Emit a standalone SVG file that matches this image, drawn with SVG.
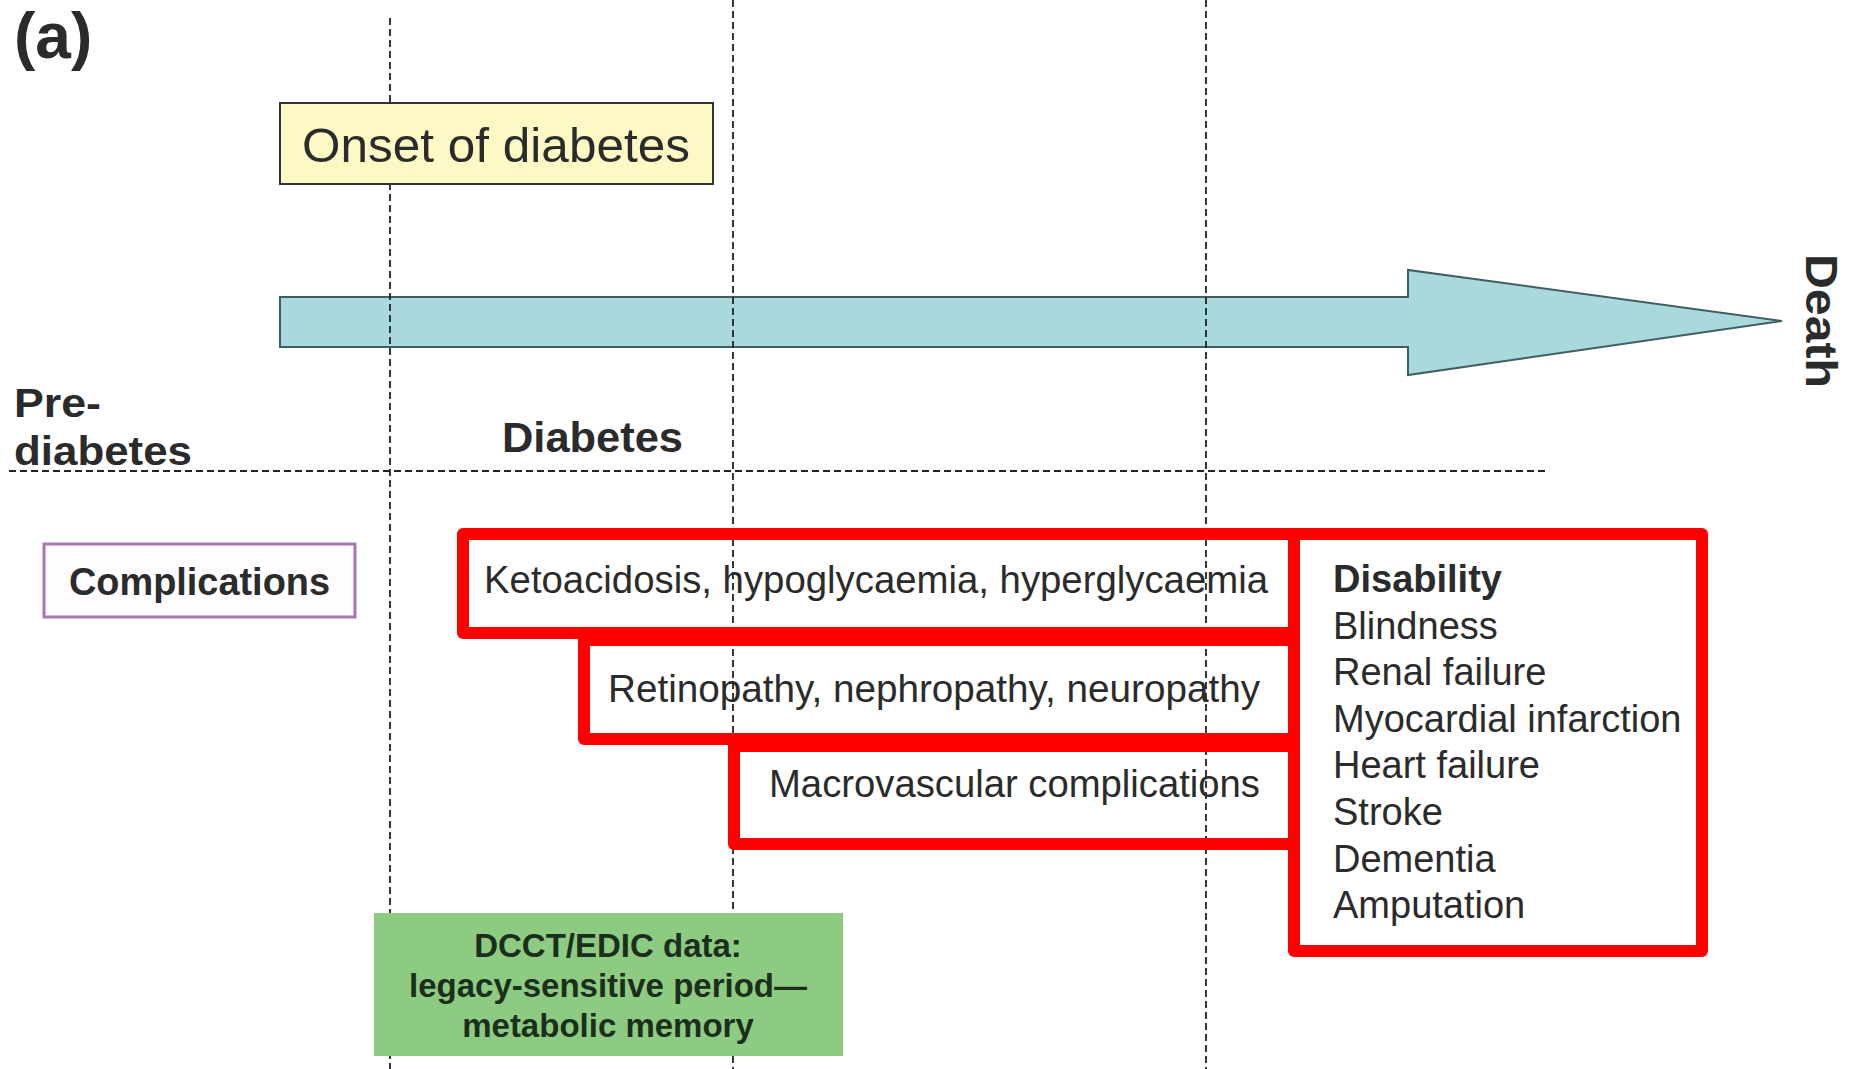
<svg xmlns="http://www.w3.org/2000/svg" width="1854" height="1069" viewBox="0 0 1854 1069">
<style>
.t{font-family:"Liberation Sans",Arial,sans-serif;fill:#2b2b2b}
.b{font-weight:bold}
.guide{stroke:#222;stroke-width:1.8;stroke-dasharray:7 4;fill:none}
.red{fill:none;stroke:#ff0000;stroke-width:12;stroke-linejoin:round}
.lst{font-size:38px}
</style>
<rect width="1854" height="1069" fill="#ffffff"/>
<g id="timeline-arrow">
<polygon points="280,297 1408,297 1408,270 1782,321 1408,375 1408,347 280,347" fill="#a9d9dc" stroke="#3f5f61" stroke-width="2"/>
</g>
<g id="connectors">
<line class="guide" x1="390" y1="18" x2="390" y2="1069"/>
<line class="guide" x1="733" y1="0" x2="733" y2="1069"/>
<line class="guide" x1="1206" y1="0" x2="1206" y2="1069"/>
<line class="guide" x1="9" y1="471" x2="1545" y2="471"/>
</g>
<g id="label-a"><text class="t b" x="14" y="58" font-size="64">(a)</text></g>
<g id="onset">
<rect x="280" y="103" width="433" height="81" fill="#fdf9c4" stroke="#333" stroke-width="2"/>
<text class="t" x="496" y="162" font-size="49" text-anchor="middle" textLength="388" lengthAdjust="spacingAndGlyphs">Onset of diabetes</text>
</g>
<g id="death"><text class="t b" transform="translate(1806,254) rotate(90)" font-size="44" textLength="134" lengthAdjust="spacingAndGlyphs">Death</text></g>
<g id="prediabetes">
<text class="t b" x="14" y="417" font-size="40" textLength="87" lengthAdjust="spacingAndGlyphs">Pre-</text>
<text class="t b" x="14" y="465" font-size="40" textLength="178" lengthAdjust="spacingAndGlyphs">diabetes</text>
</g>
<g id="diabetes"><text class="t b" x="502" y="452" font-size="42" textLength="181" lengthAdjust="spacingAndGlyphs">Diabetes</text></g>
<g id="complications">
<rect x="44" y="544" width="311" height="73" fill="#fefcff" stroke="#a678b0" stroke-width="3"/>
<text class="t b" x="199.5" y="595" font-size="38" text-anchor="middle" textLength="261" lengthAdjust="spacingAndGlyphs">Complications</text>
</g>
<g id="acute">
<rect class="red" x="463" y="534" width="831" height="99"/>
<text class="t" x="484" y="593" font-size="38" textLength="784" lengthAdjust="spacingAndGlyphs">Ketoacidosis, hypoglycaemia, hyperglycaemia</text>
</g>
<g id="microvascular">
<rect class="red" x="584" y="640" width="710" height="99"/>
<text class="t" x="608" y="702" font-size="38" textLength="652" lengthAdjust="spacingAndGlyphs">Retinopathy, nephropathy, neuropathy</text>
</g>
<g id="macrovascular">
<rect class="red" x="734" y="746" width="560" height="98"/>
<text class="t" x="769" y="797" font-size="38" textLength="491" lengthAdjust="spacingAndGlyphs">Macrovascular complications</text>
</g>
<g id="disability">
<rect class="red" x="1294" y="534" width="408" height="417"/>
<text class="t b lst" x="1333" y="592">Disability</text>
<text class="t lst" x="1333" y="638.6">Blindness</text>
<text class="t lst" x="1333" y="685.2">Renal failure</text>
<text class="t lst" x="1333" y="731.8">Myocardial infarction</text>
<text class="t lst" x="1333" y="778.4">Heart failure</text>
<text class="t lst" x="1333" y="825">Stroke</text>
<text class="t lst" x="1333" y="871.6">Dementia</text>
<text class="t lst" x="1333" y="918.2">Amputation</text>
</g>
<g id="dcct">
<rect x="374" y="913" width="469" height="143" fill="#8dcb83"/>
<text class="t b" x="608" y="957" font-size="33" text-anchor="middle" style="fill:#1b2f1b">DCCT/EDIC data:</text>
<text class="t b" x="608" y="997" font-size="33" text-anchor="middle" style="fill:#1b2f1b">legacy-sensitive period—</text>
<text class="t b" x="608" y="1037" font-size="33" text-anchor="middle" style="fill:#1b2f1b">metabolic memory</text>
</g>
</svg>
